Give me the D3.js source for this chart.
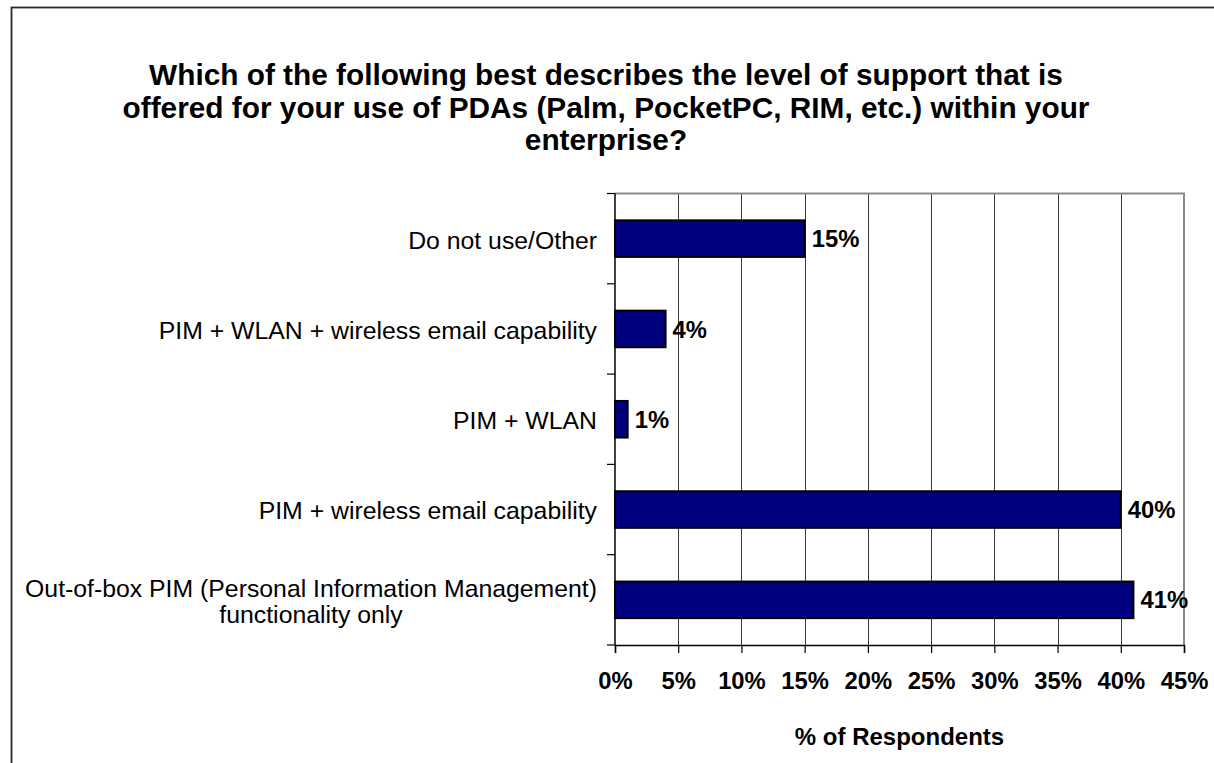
<!DOCTYPE html>
<html>
<head>
<meta charset="utf-8">
<script src="https://cdn.jsdelivr.net/npm/d3@7/dist/d3.min.js"></script>
<style>
  html, body { margin: 0; padding: 0; background: #ffffff; }
  svg { display: block; }
  text { font-family: "Liberation Sans", Arial, Helvetica, sans-serif; fill: #000; }
</style>
</head>
<body>
<svg id="chart" width="1214" height="763"></svg>
<script>
// Survey answers, top to bottom
const categories = [
  "Do not use/Other",
  "PIM + WLAN + wireless email capability",
  "PIM + WLAN",
  "PIM + wireless email capability",
  "Out-of-box PIM (Personal Information Management)|functionality only"
];
// Share of respondents (%)
const values = [15, 4, 1, 40, 41];
// Axis ticks (%)
const xTicks = [0, 5, 10, 15, 20, 25, 30, 35, 40, 45];
const titleLines = [
  "Which of the following best describes the level of support that is",
  "offered for your use of PDAs (Palm, PocketPC, RIM, etc.) within your",
  "enterprise?"
];
const xAxisTitle = "% of Respondents";

const svg = d3.select("#chart");
const W = 1214, H = 763;
const plot = { left: 615, right: 1184, top: 193.5, bottom: 645 };

// Outer chart frame (runs off the right and bottom edges)
svg.append("rect")
  .attr("x", 11.5).attr("y", 7.5)
  .attr("width", W + 20).attr("height", H + 20)
  .attr("fill", "#fff")
  .attr("stroke", "#2a2a2a").attr("stroke-width", 1.8);

const x = d3.scaleLinear().domain([0, 45]).range([plot.left, plot.right]);
const y = d3.scaleBand()
  .domain(categories)
  .range([plot.top, plot.bottom])
  .paddingInner(0.595)
  .paddingOuter(0.2975);

// Title
svg.append("g").selectAll("text")
  .data(titleLines)
  .join("text")
  .attr("x", 606)
  .attr("y", (d, i) => 85 + i * 32.5)
  .attr("text-anchor", "middle")
  .attr("font-size", 29.8)
  .attr("font-weight", "bold")
  .text(d => d);

// Vertical gridlines
svg.append("g").selectAll("line")
  .data(xTicks.filter(t => t > 0 && t < 45))
  .join("line")
  .attr("x1", d => Math.round(x(d)) + 0.5).attr("x2", d => Math.round(x(d)) + 0.5)
  .attr("y1", plot.top).attr("y2", plot.bottom)
  .attr("stroke", "#3a3a3a").attr("stroke-width", 1);

// Plot area border (top and right edges)
svg.append("path")
  .attr("d", `M${plot.left},${plot.top}H${plot.right}V${plot.bottom}`)
  .attr("fill", "none")
  .attr("stroke", "#8a8a8a").attr("stroke-width", 2);

// Bars
svg.append("g").selectAll("rect")
  .data(categories)
  .join("rect")
  .attr("x", x(0))
  .attr("y", d => y(d))
  .attr("width", (d, i) => x(values[i]) - x(0))
  .attr("height", y.bandwidth())
  .attr("fill", "#000080")
  .attr("stroke", "#000").attr("stroke-width", 2);

// Value labels
svg.append("g").selectAll("text")
  .data(categories)
  .join("text")
  .attr("x", (d, i) => x(values[i]) + 7)
  .attr("y", d => y(d) + y.bandwidth() / 2)
  .attr("dy", "0.36em")
  .attr("font-size", 23.8)
  .attr("font-weight", "bold")
  .text((d, i) => values[i] + "%");

// X axis
const xAxis = d3.axisBottom(x)
  .tickValues(xTicks)
  .tickFormat(d => d + "%")
  .tickSize(8)
  .tickPadding(19);
const gx = svg.append("g")
  .attr("transform", `translate(0,${plot.bottom})`)
  .call(xAxis);
gx.select(".domain").attr("stroke", "#000").attr("stroke-width", 1.5);
gx.selectAll(".tick line").attr("stroke", "#000").attr("stroke-width", 1.2);
gx.selectAll(".tick text")
  .attr("font-size", 23.8)
  .attr("font-weight", "bold")
  .attr("font-family", "Liberation Sans, Arial, sans-serif")
  .attr("fill", "#000");

// Y axis: line with ticks at category boundaries
const step = y.step();
const boundaries = d3.range(categories.length + 1).map(i => plot.top + i * step);
svg.append("line")
  .attr("x1", plot.left).attr("x2", plot.left)
  .attr("y1", plot.top).attr("y2", plot.bottom)
  .attr("stroke", "#000").attr("stroke-width", 1.5);
svg.append("g").selectAll("line")
  .data(boundaries)
  .join("line")
  .attr("x1", plot.left - 8).attr("x2", plot.left)
  .attr("y1", d => d).attr("y2", d => d)
  .attr("stroke", "#000").attr("stroke-width", 1.2);

// Category labels, right-aligned block, lines centred within the block
const labelRight = 597;
const lineGap = 26;
categories.forEach(cat => {
  const lines = cat.split("|");
  const g = svg.append("g");
  const texts = g.selectAll("text")
    .data(lines)
    .join("text")
    .attr("font-size", 24.8)
    .attr("text-anchor", "middle")
    .attr("dy", "0.36em")
    .text(d => d);
  const widths = texts.nodes().map(n => n.getComputedTextLength());
  const maxW = d3.max(widths);
  const cy = y(cat) + y.bandwidth() / 2;
  texts
    .attr("x", labelRight - maxW / 2)
    .attr("y", (d, i) => cy + 1 + (i - (lines.length - 1) / 2) * lineGap);
});

// X axis title
svg.append("text")
  .attr("x", (plot.left + plot.right) / 2)
  .attr("y", 745)
  .attr("text-anchor", "middle")
  .attr("font-size", 24)
  .attr("font-weight", "bold")
  .text(xAxisTitle);
</script>
</body>
</html>
